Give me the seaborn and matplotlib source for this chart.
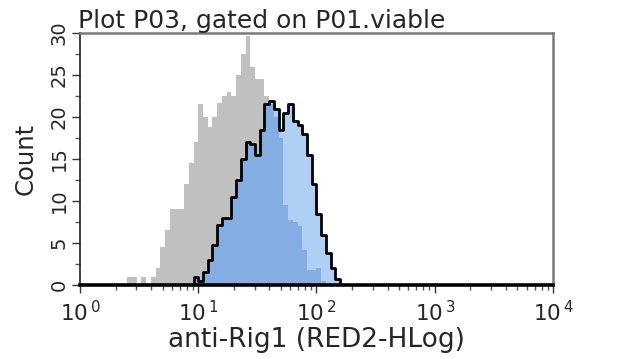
import numpy as np
import pandas as pd
import matplotlib
matplotlib.use("Agg")
import matplotlib.pyplot as plt
import matplotlib.transforms as mtransforms
import seaborn as sns

# channel centres in log10 units (decades)
log_centers = [0.38, 0.42, 0.46, 0.50, 0.54, 0.58, 0.62, 0.66, 0.70, 0.74, 0.78, 0.82,
               0.86, 0.90, 0.94, 0.98, 1.02, 1.06, 1.10, 1.14, 1.18, 1.22, 1.26, 1.30,
               1.34, 1.38, 1.42, 1.46, 1.50, 1.54, 1.58, 1.62, 1.66, 1.70, 1.74, 1.78,
               1.82, 1.86, 1.90, 1.94, 1.98, 2.02, 2.06, 2.10, 2.14, 2.18, 2.22]

control_counts = [0, 1, 1, 0, 1, 0, 1, 2, 4.5, 6.5, 9, 9, 9, 12, 14.5, 17,
                  21.5, 20, 18.8, 20, 21.7, 22.5, 23, 22.5, 25, 27.5, 29.6, 26, 24.5, 24.5, 22.5,
                  21.5, 20, 17.5, 9.5, 7.8, 7.5, 7, 4.2, 1.8, 1.8, 2, 0.5, 0, 0, 0, 0]

rig1_counts = [0, 0, 0, 0, 0, 0, 0, 0, 0, 0, 0, 0, 0, 0, 0, 1,
               0.5, 1.5, 3, 4.8, 7.2, 8, 8, 10.5, 12.5, 15, 17, 16.8, 15.5, 18.5, 21.5,
               21.9, 21, 18.5, 20.5, 21.5, 19.5, 19, 18, 15.5, 12, 8.5, 6, 3.8, 2, 0.7, 0]

x_tick_pos = [0, 1, 2, 3, 4]
x_tick_labels = [r"$10^{\,0}$", r"$10^{\,1}$", r"$10^{\,2}$", r"$10^{\,3}$", r"$10^{\,4}$"]
y_ticks = [0, 5, 10, 15, 20, 25, 30]

title_text = "Plot P03, gated on P01.viable"
x_label = "anti-Rig1 (RED2-HLog)"
y_label = "Count"

sns.set_style("ticks")
plt.rcParams["font.family"] = ["DejaVu Sans"]
plt.rcParams["mathtext.fontset"] = "dejavusans"

df = pd.DataFrame({"ch": log_centers, "gray": control_counts, "blue": rig1_counts})
df["overlap"] = np.minimum(df["gray"], df["blue"])
centers = np.array(log_centers)
edges = [float(v) for v in np.round(np.append(centers - 0.02, centers[-1] + 0.02), 3)]

fig = plt.figure(figsize=(6.4, 3.59), dpi=100)
ax = fig.add_axes([0.125, 0.206, 0.739, 0.702])

sns.histplot(data=df, x="ch", weights="gray", bins=edges, element="step",
             fill=True, color="#C0C0C0", alpha=1, linewidth=0, ax=ax)
sns.histplot(data=df, x="ch", weights="blue", bins=edges, element="step",
             fill=True, color="#B0CFF5", alpha=1, linewidth=0, ax=ax)
sns.histplot(data=df, x="ch", weights="overlap", bins=edges, element="step",
             fill=True, color="#84AEE3", alpha=1, linewidth=0, ax=ax)
sns.histplot(data=df, x="ch", weights="blue", bins=edges, element="step",
             fill=False, color="black", linewidth=2, ax=ax)

ax.set_xlim(0, 4)
ax.set_ylim(0, 30)
ax.set_xticks(x_tick_pos)
ax.set_xticklabels(x_tick_labels, fontsize=15.5)
shift = mtransforms.ScaledTranslation(-6 / 100, 0, fig.dpi_scale_trans)
for lbl in ax.get_xticklabels():
    lbl.set_transform(lbl.get_transform() + shift)
minor_x = [d + np.log10(m) for d in range(4) for m in range(2, 10)]
ax.set_xticks(minor_x, minor=True)
ax.set_yticks(y_ticks)
ax.set_yticklabels([str(v) for v in y_ticks], fontsize=14, rotation=90, va="center")
ax.set_yticks([2.5, 7.5, 12.5, 17.5, 22.5, 27.5], minor=True)

ax.tick_params(axis="both", which="major", length=6, width=1, color="#333333", pad=2)
ax.tick_params(axis="both", which="minor", length=3.5, width=1, color="#555555")
ax.tick_params(axis="x", which="major", pad=5)

ax.set_xlabel(x_label, fontsize=19, labelpad=1)
ax.set_ylabel(y_label, fontsize=17.5, labelpad=9)
ax.set_title(title_text, fontsize=18, loc="left", pad=1, x=-0.005)

for side in ["top", "right"]:
    ax.spines[side].set_visible(True)
    ax.spines[side].set_color("#7A7A7A")
    ax.spines[side].set_linewidth(1.8)
ax.spines["left"].set_color("#222222")
ax.spines["left"].set_linewidth(1.2)
ax.spines["bottom"].set_color("black")
ax.spines["bottom"].set_linewidth(2.6)

fig.savefig("out.png", dpi=100)
